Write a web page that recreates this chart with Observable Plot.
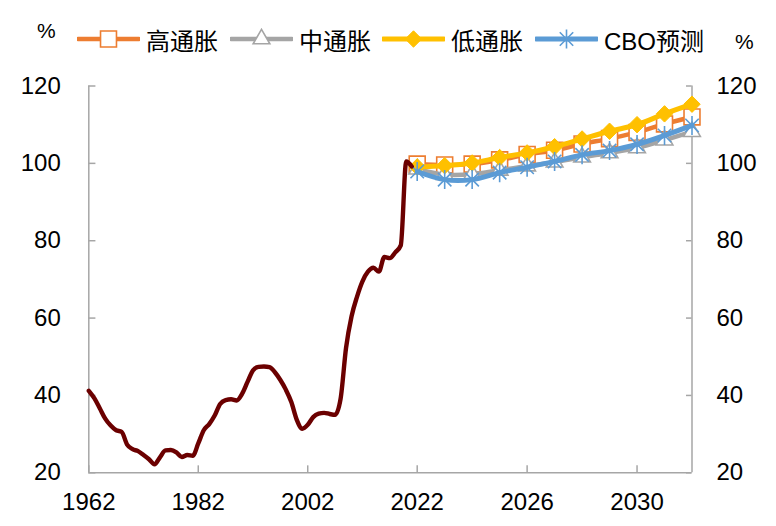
<!DOCTYPE html>
<html>
<head>
<meta charset="utf-8">
<script src="https://cdn.jsdelivr.net/npm/d3@7"></script>
<script src="https://cdn.jsdelivr.net/npm/@observablehq/plot@0.6"></script>
<style>
  body { margin: 0; background: #fff; font-family: "Liberation Sans", Arial, "Noto Sans CJK SC", sans-serif; }
  #wrap { position: relative; width: 776px; height: 526px; overflow: hidden; }
  .lg { position: absolute; top: 23px; height: 32px; display: flex; align-items: center; font-size: 24px; color: #000; white-space: nowrap; }
  .lg svg { margin-right: 6px; }
  .pct { position: absolute; font-size: 21px; line-height: 24px; color: #000; }
</style>
</head>
<body>
<div id="wrap"><div id="chart"></div></div>
<script>
// ---- data ----
const histYears = [1962,1963,1964,1965,1966,1967,1968,1969,1970,1971,1972,1973,1974,1975,1976,1977,1978,1979,1980,1981,
  1982,1983,1984,1985,1986,1987,1988,1989,1990,1991,1992,1993,1994,1995,1996,1997,1998,1999,2000,2001,
  2002,2003,2004,2005,2006,2007,2008,2009,2010,2011,2012,2013,2014,2015,2016,2017,2018,2019,2020,2021];
const histDebt = [41.2,39.3,36.7,34.0,32.2,31.0,30.6,27.3,26.1,25.6,24.6,23.5,22.2,24.0,25.8,25.9,25.3,24.1,24.6,24.4,
  27.6,31.0,32.6,34.8,37.8,38.8,39.0,38.7,40.4,43.5,46.5,47.4,47.5,47.3,46.0,44.0,41.5,38.3,33.7,31.4,
  32.4,34.4,35.3,35.5,35.2,35.0,39.1,52.3,60.4,65.5,69.5,72.0,73.0,72.0,75.8,75.5,77.0,78.8,100.5,99.2];

const projYears = [2022,2023,2024,2025,2026,2027,2028,2029,2030,2031,2032];
const highInflation = [99.8,99.6,99.8,100.9,102.3,103.4,105.0,106.4,108.0,110.2,112.0];
const midInflation  = [98.5,97.1,97.2,98.2,99.3,100.3,101.6,102.7,104.0,106.0,108.2];
const lowInflation  = [99.1,99.4,100.1,101.5,102.7,104.3,106.3,108.3,110.0,112.8,115.3];
const cboForecast   = [97.9,95.8,95.8,97.6,99.0,100.5,102.2,103.3,104.9,107.2,109.8];

const seriesNames = ["高通胀", "中通胀", "低通胀", "CBO预测"];
const xTicks = [1962, 1982, 2002, 2022, 2026, 2030];
const yTicks = [20, 40, 60, 80, 100, 120];

// ---- styles ----
const colors = ["#ED7D31", "#A5A5A5", "#FFC000", "#5B9BD5"];
const histColor = "#6B0000";
const axisColor = "#A6A6A6";

const starSymbol = {
  draw(ctx, size) {
    const r = Math.sqrt(size / Math.PI);
    const d = r * Math.SQRT1_2;
    ctx.moveTo(0, -r); ctx.lineTo(0, r);
    ctx.moveTo(-d, -d); ctx.lineTo(d, d);
    ctx.moveTo(-d, d); ctx.lineTo(d, -d);
  }
};
const markerStyles = [
  {symbol: "square", r: 9, fill: "#fff", stroke: colors[0], strokeWidth: 1.6},
  {symbol: "triangle", r: 6.2, fill: "#fff", stroke: colors[1], strokeWidth: 1.6},
  {symbol: "diamond2", r: 7.4, fill: colors[2], stroke: colors[2], strokeWidth: 1},
  {symbol: starSymbol, r: 9.5, fill: "none", stroke: colors[3], strokeWidth: 1.6}
];
const lineWidths = [4.5, 4.5, 5, 5];

// ---- tables ----
const hist = histYears.map((year, i) => ({year, value: histDebt[i]}));
const seriesValues = [highInflation, midInflation, lowInflation, cboForecast];
const proj = seriesNames.map((name, s) => projYears.map((year, i) => ({year, value: seriesValues[s][i], name})));

const seriesMarks = proj.flatMap((rows, s) => [
  Plot.line(rows, {x: "year", y: "value", stroke: colors[s], strokeWidth: lineWidths[s], curve: "catmull-rom"}),
  Plot.dot(rows, {x: "year", y: "value", ...markerStyles[s]})
]);

const xMin = 1962, xSplit = 2022, xMax = 2032;

const chart = Plot.plot({
  width: 776,
  height: 526,
  marginLeft: 88.3,
  marginRight: 84,
  marginTop: 85.5,
  marginBottom: 53.7,
  style: {fontFamily: '"Liberation Sans", Arial, "Noto Sans CJK SC", sans-serif', fontSize: "24px", color: "#000", background: "#fff", overflow: "visible"},
  x: {type: "linear", domain: [xMin, xSplit, xMax], range: [88.3, 416.7, 691.5]},
  y: {domain: [20, 120]},
  marks: [
    Plot.axisX(xTicks, {anchor: "bottom", tickSize: 0, tickPadding: 20, tickFormat: d => String(d), label: null, fontSize: 24}),
    Plot.axisY(yTicks, {anchor: "left", tickSize: 0, tickPadding: 28, tickFormat: d => String(d), label: null, fontSize: 24}),
    Plot.axisY(yTicks, {anchor: "right", tickSize: 0, tickPadding: 24, tickFormat: d => String(d), label: null, fontSize: 24}),
    // axis lines
    Plot.ruleY([20], {x1: xMin, x2: xMax, stroke: axisColor, strokeWidth: 1.5}),
    Plot.ruleX([xMin, xMax], {y1: 20, y2: 120, stroke: axisColor, strokeWidth: 1.5}),
    // inward tick marks
    Plot.ruleX(xTicks, {y1: 20, y2: 21.8, stroke: axisColor, strokeWidth: 1.5}),
    Plot.ruleY(yTicks, {x1: xMin, x2: xMin + 1.3, stroke: axisColor, strokeWidth: 1.5}),
    Plot.ruleY(yTicks, {x1: xMax - 0.2, x2: xMax, stroke: axisColor, strokeWidth: 1.5}),
    ...seriesMarks,
    Plot.line(hist, {x: "year", y: "value", stroke: histColor, strokeWidth: 4.4, curve: "monotone-x"})
  ]
});

const wrap = document.getElementById("wrap");
document.getElementById("chart").appendChild(chart);

// ---- legend (HTML overlay) ----
const legendLeft = [77, 230, 382, 535];
seriesNames.forEach((name, s) => {
  const item = document.createElement("div");
  item.className = "lg";
  item.style.left = legendLeft[s] + "px";
  const svg = d3.create("svg").attr("width", 63).attr("height", 22);
  svg.append("line").attr("x1", 1).attr("x2", 62).attr("y1", 11).attr("y2", 11)
    .attr("stroke", colors[s]).attr("stroke-width", lineWidths[s]).attr("stroke-linecap", "round");
  const m = markerStyles[s];
  const symType = m.symbol === "square" ? d3.symbolSquare : m.symbol === "triangle" ? d3.symbolTriangle : m.symbol === "diamond2" ? d3.symbolDiamond2 : starSymbol;
  svg.append("path").attr("transform", "translate(31.5,11)")
    .attr("d", d3.symbol(symType, Math.PI * m.r * m.r)())
    .attr("fill", m.fill).attr("stroke", m.stroke).attr("stroke-width", m.strokeWidth);
  item.appendChild(svg.node());
  const label = document.createElement("span");
  label.textContent = name;
  item.appendChild(label);
  wrap.appendChild(item);
});

// ---- axis unit labels ----
[["%", 37, 19], ["%", 735, 30]].forEach(([t, l, tp]) => {
  const el = document.createElement("span");
  el.className = "pct";
  el.textContent = t;
  el.style.left = l + "px";
  el.style.top = tp + "px";
  wrap.appendChild(el);
});
</script>
</body>
</html>
